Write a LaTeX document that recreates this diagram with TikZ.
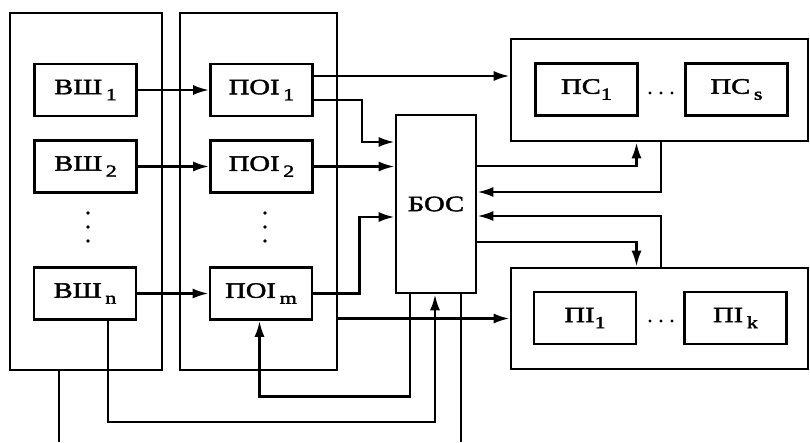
\documentclass[tikz,border=0pt]{standalone}
\usepackage{fontspec}
\setmainfont{Liberation Serif}[FakeStretch=1.3,FakeBold=2]
\usetikzlibrary{arrows.meta}
\newcommand\subidx[1]{\raisebox{-6pt}{\fontsize{17}{17}\selectfont #1}}
\begin{document}
\begin{tikzpicture}[x=1pt,y=-1pt,
  every node/.style={font=\fontsize{22}{26}\selectfont},
  grp/.style={draw,line width=2.6pt,inner sep=0pt},
  blk/.style={draw,line width=2.6pt,inner sep=0pt,minimum width=102pt,minimum height=52pt},
  wire/.style={line width=2.6pt},
  arr/.style={wire,-{Latex[length=16pt,width=10pt]}}]
\useasboundingbox[fill=white] (0,0) rectangle (810,442);
% groups
\node[grp,minimum width=152pt,minimum height=357pt] (G1) at (86,191.5) {};
\node[grp,minimum width=157pt,minimum height=357pt] (G2) at (258.5,191.5) {};
\node[grp,minimum width=297pt,minimum height=102pt] (GS) at (659.5,90) {};
\node[grp,minimum width=297pt,minimum height=101pt] (GI) at (659.5,318.5) {};
% blocks
\node[blk] (V1) at (85.5,90) {ВШ\,\subidx{1}};
\node[blk] (V2) at (85.5,166.5) {ВШ\,\subidx{2}};
\node[blk] (Vn) at (85,293.5) {ВШ\,\subidx{n}};
\node[blk] (P1) at (261.5,90) {ПОІ\,\subidx{1}};
\node[blk] (P2) at (261.5,166.5) {ПОІ\,\subidx{2}};
\node[blk] (Pm) at (261,293.5) {ПОІ\,\subidx{m}};
\node[blk,minimum width=80pt,minimum height=178pt] (B) at (436,204) {БОС};
\node[blk] (S1) at (586.5,89.5) {ПС\subidx{1}};
\node[blk] (Ss) at (736.5,89.5) {ПС\,\subidx{s}};
\node[blk] (I1) at (585,318) {ПІ\subidx{1}};
\node[blk] (Ik) at (735.5,318) {ПІ\,\subidx{k}};
% dots
\foreach \y in {213,227,241} {\fill (88,\y) circle (1.9pt); \fill (265,\y) circle (1.9pt);}
\foreach \x in {650,661,672} {\fill (\x,93) circle (1.7pt); \fill (\x,321) circle (1.7pt);}
% free ends
\coordinate (e1) at (59,442);
\coordinate (e2) at (461,442);
% connectors
\draw[arr] (V1) -- (P1);
\draw[arr] (V2) -- (P2);
\draw[arr] (Vn) -- (Pm);
\draw[arr] ([yshift=14pt]P1.east) -- ([yshift=14pt]GS.west);
\draw[arr] ([yshift=-10pt]P1.east) -- ++(48,0) |- ([yshift=62pt]B.west);
\draw[arr] (P2.east) -- (P2.east -| B.west);
\draw[arr] (Pm.east) -- ++(46,0) |- ([yshift=-13pt]B.west);
\draw[arr] ([yshift=38pt]B.east) -| ([xshift=-23pt]GS.south);
\draw[arr] ([xshift=1.5pt]GS.south) |- ([yshift=12pt]B.east);
\draw[arr] ([xshift=1.5pt]GI.north) |- ([yshift=-12pt]B.east);
\draw[arr] ([yshift=-38pt]B.east) -| ([xshift=-23pt]GI.north);
\draw[arr] (G2.east |- GI.west) -- (GI.west);
\draw[wire] ([xshift=-27pt]G1.south) -- (e1);
\draw[arr] ([xshift=23pt]Vn.south) -- ++(0,101) -| ([xshift=-1pt]B.south);
\draw[arr] ([xshift=-26pt]B.south) -- ++(0,102) -| ([xshift=-1.5pt]Pm.south);
\draw[wire] ([xshift=25pt]B.south) -- (e2);
\end{tikzpicture}
\end{document}
